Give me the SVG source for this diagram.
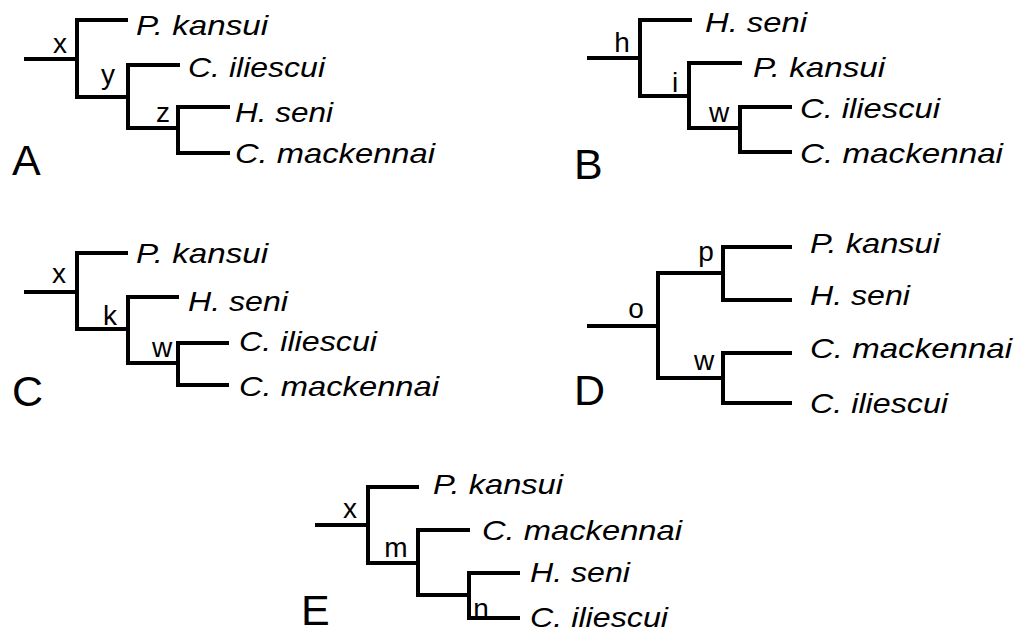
<svg xmlns="http://www.w3.org/2000/svg" width="1016" height="635" viewBox="0 0 1016 635">
<style>
.br{fill:none;stroke:#000;stroke-width:4;stroke-linejoin:miter;stroke-linecap:butt}
.sp{font-family:"Liberation Sans",Arial,sans-serif;font-style:italic;font-size:28px;fill:#000}
.nl{font-family:"Liberation Sans",Arial,sans-serif;font-size:28px;fill:#000;text-anchor:middle}
.pl{font-family:"Liberation Sans",Arial,sans-serif;font-size:43px;fill:#000}
</style>
<rect width="1016" height="635" fill="#fff"/>
<g id="connectors">
<!-- A -->
<path class="br" d="M24 59H77M128 20H77V97H128M180 65H128V128H178M230 107H178V153H230"/>
<!-- B -->
<path class="br" d="M587 58H640M692 20H640V96H689M742 63H689V128H740M792 107H740V152H792"/>
<!-- C -->
<path class="br" d="M24 292H77M128 253H77V329H128M179 297H128V363H178M229 343H178V385H229"/>
<!-- D -->
<path class="br" d="M587 326H658M723 273H658V378H723M792 247H723V300H792M792 353H723V403H792"/>
<!-- E -->
<path class="br" d="M315 525H368M419 487H368V563H418M470 530H418V595H469M520 573H469V618H520"/>
</g>
<g id="panelA">
<text class="pl" x="12" y="175">A</text>
<g id="A-x"><text class="nl" x="60" y="53">x</text></g>
<g id="A-y"><text class="nl" x="108" y="84">y</text></g>
<g id="A-z"><text class="nl" x="163" y="122">z</text></g>
<g id="A-pk"><text class="sp" x="136" y="35" textLength="132" lengthAdjust="spacingAndGlyphs">P. kansui</text></g>
<g id="A-ci"><text class="sp" x="188" y="77" textLength="137" lengthAdjust="spacingAndGlyphs">C. iliescui</text></g>
<g id="A-hs"><text class="sp" x="235" y="122" textLength="98" lengthAdjust="spacingAndGlyphs">H. seni</text></g>
<g id="A-cm"><text class="sp" x="235" y="163" textLength="200" lengthAdjust="spacingAndGlyphs">C. mackennai</text></g>
</g>
<g id="panelB">
<text class="pl" x="574" y="179">B</text>
<g id="B-h"><text class="nl" x="622" y="52">h</text></g>
<g id="B-i"><text class="nl" x="675" y="92">i</text></g>
<g id="B-w"><text class="nl" x="719" y="122">w</text></g>
<g id="B-hs"><text class="sp" x="705" y="32" textLength="102" lengthAdjust="spacingAndGlyphs">H. seni</text></g>
<g id="B-pk"><text class="sp" x="753" y="77" textLength="132" lengthAdjust="spacingAndGlyphs">P. kansui</text></g>
<g id="B-ci"><text class="sp" x="800" y="118" textLength="140" lengthAdjust="spacingAndGlyphs">C. iliescui</text></g>
<g id="B-cm"><text class="sp" x="800" y="163" textLength="203" lengthAdjust="spacingAndGlyphs">C. mackennai</text></g>
</g>
<g id="panelC">
<text class="pl" x="12" y="406">C</text>
<g id="C-x"><text class="nl" x="59" y="283">x</text></g>
<g id="C-k"><text class="nl" x="110" y="325">k</text></g>
<g id="C-w"><text class="nl" x="162" y="357">w</text></g>
<g id="C-pk"><text class="sp" x="136" y="263" textLength="132" lengthAdjust="spacingAndGlyphs">P. kansui</text></g>
<g id="C-hs"><text class="sp" x="188" y="311" textLength="100" lengthAdjust="spacingAndGlyphs">H. seni</text></g>
<g id="C-ci"><text class="sp" x="239" y="351" textLength="138" lengthAdjust="spacingAndGlyphs">C. iliescui</text></g>
<g id="C-cm"><text class="sp" x="239" y="396" textLength="200" lengthAdjust="spacingAndGlyphs">C. mackennai</text></g>
</g>
<g id="panelD">
<text class="pl" x="574" y="405">D</text>
<g id="D-o"><text class="nl" x="636" y="318">o</text></g>
<g id="D-p"><text class="nl" x="706" y="261">p</text></g>
<g id="D-w"><text class="nl" x="704" y="370">w</text></g>
<g id="D-pk"><text class="sp" x="810" y="253" textLength="130" lengthAdjust="spacingAndGlyphs">P. kansui</text></g>
<g id="D-hs"><text class="sp" x="810" y="305" textLength="100" lengthAdjust="spacingAndGlyphs">H. seni</text></g>
<g id="D-cm"><text class="sp" x="810" y="358" textLength="202" lengthAdjust="spacingAndGlyphs">C. mackennai</text></g>
<g id="D-ci"><text class="sp" x="810" y="413" textLength="138" lengthAdjust="spacingAndGlyphs">C. iliescui</text></g>
</g>
<g id="panelE">
<text class="pl" x="301" y="625">E</text>
<g id="E-x"><text class="nl" x="350" y="518">x</text></g>
<g id="E-m"><text class="nl" x="396" y="557">m</text></g>
<g id="E-n"><text class="nl" x="481" y="618">n</text></g>
<g id="E-pk"><text class="sp" x="433" y="494" textLength="130" lengthAdjust="spacingAndGlyphs">P. kansui</text></g>
<g id="E-cm"><text class="sp" x="482" y="540" textLength="200" lengthAdjust="spacingAndGlyphs">C. mackennai</text></g>
<g id="E-hs"><text class="sp" x="530" y="582" textLength="100" lengthAdjust="spacingAndGlyphs">H. seni</text></g>
<g id="E-ci"><text class="sp" x="530" y="627" textLength="138" lengthAdjust="spacingAndGlyphs">C. iliescui</text></g>
</g>
</svg>
